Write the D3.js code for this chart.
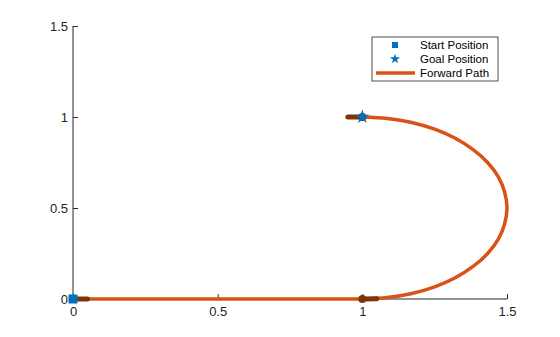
<!DOCTYPE html>
<html>
<head>
<meta charset="utf-8">
<script src="https://cdn.jsdelivr.net/npm/d3@7"></script>
<style>
  body { margin: 0; background: #fff; }
  svg { font-family: "Liberation Sans", Arial, sans-serif; }
</style>
</head>
<body>
<svg id="vis" width="560" height="337"></svg>
<script>
// tick values on both axes
const xTicks = [0, 0.5, 1, 1.5];
const yTicks = [0, 0.5, 1, 1.5];

// forward path: straight leg ...
const straightLeg = [[0, 0], [1, 0]];
// ... then the half turn back up to the goal
const turnPoints = [
    [1, 0], [1.087, 0.008], [1.171, 0.03], [1.25, 0.067], [1.321, 0.117],
    [1.383, 0.179], [1.433, 0.25], [1.47, 0.329], [1.492, 0.413], [1.5, 0.5],
    [1.492, 0.587], [1.47, 0.671], [1.433, 0.75], [1.383, 0.821], [1.321, 0.883],
    [1.25, 0.933], [1.171, 0.97], [1.087, 0.992], [1, 1]
];

// darker short segments at the path's waypoints
const segments = [
    [[0, 0], [0.05, 0]],
    [[1, 0], [1.05, 0.002]],
    [[0.95, 1], [1, 1]]
];
const segmentDots = [[0, 0], [1, 0], [1, 1]];

const startPos = [0, 0];
const goalPos = [1, 1];
const legendLabels = ["Start Position", "Goal Position", "Forward Path"];

const MARGINS = {top: 26, right: 53, bottom: 38, left: 73};
const COLORS = {path: "#D95319", seg: "#7E3308", marker: "#0072BD"};

const svg = d3.select("#vis");
const width = +svg.attr("width");
const height = +svg.attr("height");

const x = d3.scaleLinear().domain([0, 1.5]).range([MARGINS.left, width - MARGINS.right]);
const y = d3.scaleLinear().domain([0, 1.5]).range([height - MARGINS.bottom, MARGINS.top]);

// axes, ticks pointing inward like matlab
const xAxis = d3.axisBottom(x).tickValues(xTicks).tickSize(-5).tickPadding(8)
    .tickFormat(d3.format("~g"));
const yAxis = d3.axisLeft(y).tickValues(yTicks).tickSize(-5).tickPadding(5)
    .tickFormat(d3.format("~g"));

const gx = svg.append("g")
    .attr("transform", `translate(0, ${y(0)})`)
    .call(xAxis);
const gy = svg.append("g")
    .attr("transform", `translate(${x(0)}, 0)`)
    .call(yAxis);

[gx, gy].forEach(function(g){
    g.select(".domain").attr("stroke", "#262626");
    g.selectAll(".tick line").attr("stroke", "#262626");
    g.selectAll(".tick text").attr("fill", "#262626").style("font-size", "13px");
});
gx.select(".domain").attr("d", `M${x(0)},0H${x(1.5)}`);
gy.select(".domain").attr("d", `M0,${y(0)}V${y(1.5)}`);

const line = d3.line()
    .x(function(d){ return x(d[0]); })
    .y(function(d){ return y(d[1]); });

svg.append("path")
    .datum(straightLeg)
    .attr("d", line)
    .attr("fill", "none")
    .attr("stroke", COLORS.path)
    .attr("stroke-width", 3.5);

svg.append("path")
    .datum(turnPoints)
    .attr("d", line.curve(d3.curveCatmullRom.alpha(0.5)))
    .attr("fill", "none")
    .attr("stroke", COLORS.path)
    .attr("stroke-width", 3.5);

svg.selectAll(".seg")
    .data(segments)
    .enter()
    .append("path")
    .attr("class", "seg")
    .attr("d", d3.line().x(function(d){ return x(d[0]); }).y(function(d){ return y(d[1]); }))
    .attr("stroke", COLORS.seg)
    .attr("stroke-width", 5)
    .attr("stroke-linecap", "round");

svg.selectAll(".dot")
    .data(segmentDots)
    .enter()
    .append("circle")
    .attr("class", "dot")
    .attr("cx", function(d){ return x(d[0]); })
    .attr("cy", function(d){ return y(d[1]); })
    .attr("r", 4)
    .attr("fill", COLORS.seg);

// start and goal markers
svg.append("path")
    .attr("d", d3.symbol().type(d3.symbolSquare).size(81)())
    .attr("transform", `translate(${x(startPos[0])}, ${y(startPos[1])})`)
    .attr("fill", COLORS.marker);
svg.append("path")
    .attr("d", d3.symbol().type(d3.symbolStar).size(62)())
    .attr("transform", `translate(${x(goalPos[0])}, ${y(goalPos[1])})`)
    .attr("fill", COLORS.marker);

// legend
const legend = svg.append("g").attr("transform", "translate(372, 37)");
legend.append("rect")
    .attr("width", 126).attr("height", 44)
    .attr("fill", "#fff").attr("stroke", "#262626").attr("stroke-width", 0.8);

const rowY = [8, 22, 36];
legend.append("path")
    .attr("d", d3.symbol().type(d3.symbolSquare).size(36)())
    .attr("transform", `translate(23, ${rowY[0]})`)
    .attr("fill", COLORS.marker);
legend.append("path")
    .attr("d", d3.symbol().type(d3.symbolStar).size(32)())
    .attr("transform", `translate(23, ${rowY[1]})`)
    .attr("fill", COLORS.marker);
legend.append("line")
    .attr("x1", 4).attr("x2", 43)
    .attr("y1", rowY[2]).attr("y2", rowY[2])
    .attr("stroke", COLORS.path).attr("stroke-width", 3.5);

legend.selectAll(".lbl")
    .data(legendLabels)
    .enter()
    .append("text")
    .attr("class", "lbl")
    .attr("x", 48)
    .attr("y", function(d, i){ return rowY[i]; })
    .attr("dy", "0.36em")
    .style("font-size", "11.5px")
    .attr("fill", "#000")
    .text(function(d){ return d; });
</script>
</body>
</html>
